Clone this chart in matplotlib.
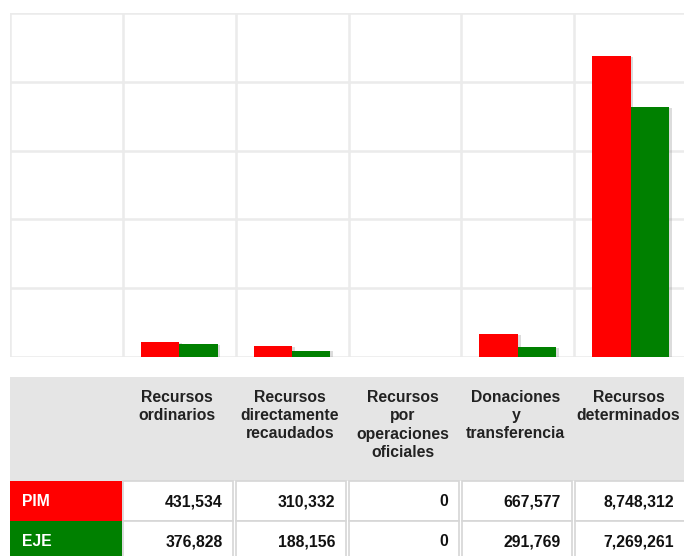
import matplotlib
matplotlib.use("Agg")
import matplotlib.pyplot as plt
from matplotlib.patches import Rectangle
import matplotlib.patheffects as pe

# ---- data ----
categories = ["Recursos\nordinarios",
              "Recursos\ndirectamente\nrecaudados",
              "Recursos\npor\noperaciones\noficiales",
              "Donaciones\ny\ntransferencia",
              "Recursos\ndeterminados"]
series_names = ["PIM", "EJE"]
pim = [431534, 310332, 0, 667577, 8748312]
eje = [376828, 188156, 0, 291769, 7269261]
y_ticks = [0, 2000000, 4000000, 6000000, 8000000, 10000000]
colors = ["#ff0000", "#008000"]

plt.rcParams['font.family'] = ['Liberation Sans', 'DejaVu Sans']

W, H = 684, 556
fig = plt.figure(figsize=(W / 100, H / 100), dpi=100)

# ---- chart ----
L, R, T, B = 10, 687, 13, 357
ax = fig.add_axes([L / W, 1 - B / H, (R - L) / W, (B - T) / H])
n = len(categories)
xs = [i + 1 for i in range(n)]
bw = 0.34
shadow = [pe.SimplePatchShadow(offset=(2, -0.5), shadow_rgbFace='#777777', alpha=0.25), pe.Normal()]
for k, (vals, col) in enumerate(zip([pim, eje], colors)):
    off = (k - 0.5) * bw
    bars = ax.bar([x + off for x in xs], vals, bw, color=col, zorder=3, linewidth=0)
    for b in bars:
        b.set_path_effects(shadow)

ax.set_xlim(-0.5, n + 0.5)
ax.set_ylim(y_ticks[0], y_ticks[-1])
ax.set_xticks([i - 0.5 for i in range(n + 2)])
ax.set_yticks(y_ticks)
ax.tick_params(length=0, labelbottom=False, labelleft=False)
ax.grid(True, color='#ebebeb', linewidth=1.8, zorder=0)
for s in ax.spines.values():
    s.set_visible(False)

# ---- table ----
TT = 375
tab = fig.add_axes([L / W, 0, (R - L) / W, (H - TT) / H])
tab.set_xlim(-0.5, n + 0.5)
tab.set_ylim(H, TT)
tab.axis('off')
px = (n + 1) / (R - L)  # one pixel in x data units

hdr_top, hdr_bot = 377, 481
row_edges = [481, 521, 562]
row_text_y = [502, 542]

tab.add_patch(Rectangle((-0.5, hdr_top), n + 1, hdr_bot - hdr_top,
                        facecolor='#e5e5e5', edgecolor='none'))
for i, cat in enumerate(categories):
    lines = cat.split("\n")
    for j, line in enumerate(lines):
        tab.text(xs[i] - 2 * px, 397 + 18.5 * j, line, ha='center', va='center',
                 fontsize=11.3, fontweight='bold', color='#222222')

for r, (name, vals, col) in enumerate(zip(series_names, [pim, eje], colors)):
    y0, y1 = row_edges[r], row_edges[r + 1]
    tab.add_patch(Rectangle((-0.5, y0), 1 - 1 * px, y1 - y0,
                            facecolor=col, edgecolor='none'))
    tab.text(-0.5 + 12 * px, row_text_y[r], name,
             ha='left', va='center', fontsize=11.3, fontweight='bold', color='white')
    for i, v in enumerate(vals):
        tab.add_patch(Rectangle((xs[i] - 0.5 + 0.5 * px, y0), 1 - 3 * px, y1 - y0,
                                facecolor='white', edgecolor='#d6d6d6', linewidth=1.2))
        tab.text(xs[i] + 0.5 - 13 * px, row_text_y[r],
                 f"{v:,}", ha='right', va='center', fontsize=11.3,
                 fontweight='bold', color='#111111')

fig.savefig("out.png", dpi=100)
